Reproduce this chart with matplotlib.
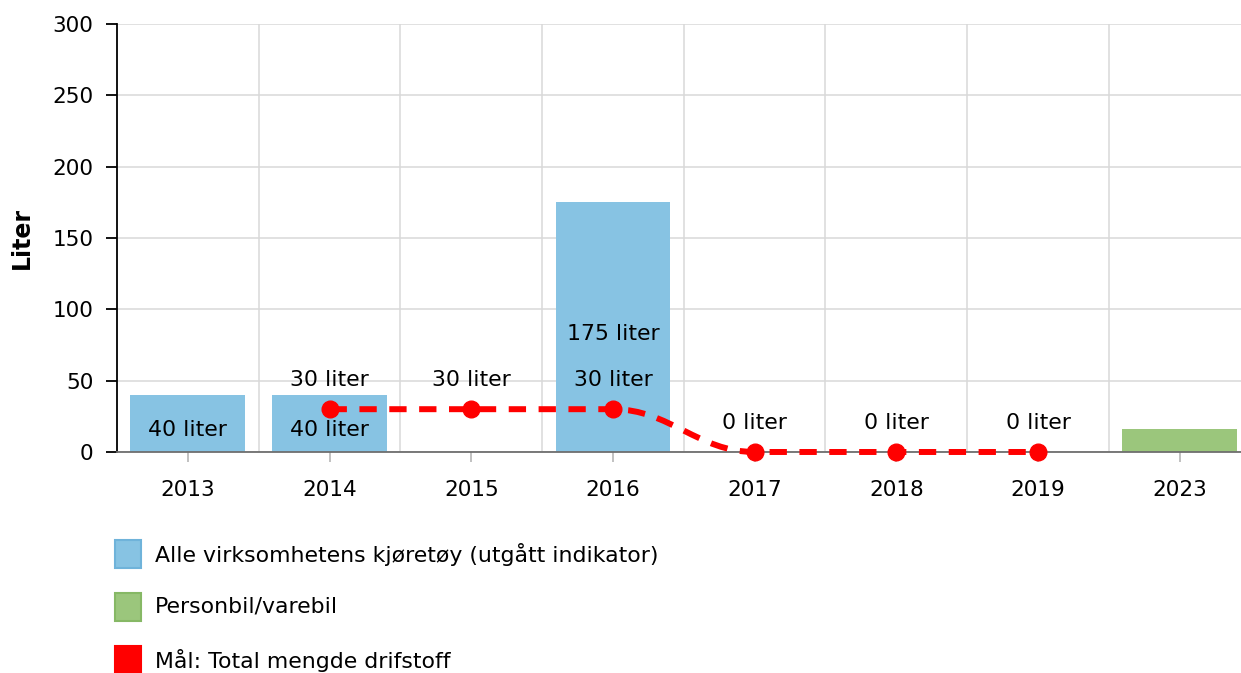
#!/usr/bin/env python3
"""Fuel use per year: bars per vehicle group plus the dashed target line.

Output: out.png
"""

import matplotlib.pyplot as plt
from matplotlib.patches import Rectangle, PathPatch
from matplotlib.path import Path

YEARS = ["2013", "2014", "2015", "2016", "2017", "2018", "2019", "2023"]

# Alle virksomhetens kjøretøy (utgått indikator)
ALL_VEHICLES = [40, 40, None, 175, None, None, None, None]
# Personbil/varebil
CAR_VAN = [None, None, None, None, None, None, None, 16]
# Mål: Total mengde drifstoff
TARGET = [None, 30, 30, 30, 0, 0, 0, None]

LEGEND_LABELS = [
    "Alle virksomhetens kjøretøy (utgått indikator)",
    "Personbil/varebil",
    "Mål: Total mengde drifstoff",
]

BLUE = "#87c3e3"
BLUE_EDGE = "#6fb3da"
GREEN = "#9bc67c"
GREEN_EDGE = "#86b865"
RED = "#ff0000"
GRID = "#d8d8d8"
BAR_WIDTH = 0.81
FS = 15.5
FS_TEXT = 15.8

plt.rcParams["font.family"] = ["DejaVu Sans"]

fig = plt.figure(figsize=(12.41, 6.73), dpi=100)
ax = fig.add_axes([0.0943, 0.3284, 0.9134, 0.6359])
ax.set_xlim(-0.5, len(YEARS) - 0.5)
ax.set_ylim(0, 300)

# grid: horizontal at value ticks, vertical at category boundaries
ax.set_yticks(range(0, 301, 50))
ax.set_xticks(range(len(YEARS)))
ax.set_xticklabels(YEARS)
ax.set_xticks([i + 0.5 for i in range(len(YEARS) - 1)], minor=True)
ax.grid(axis="y", which="major", color=GRID, linewidth=1.1)
ax.grid(axis="x", which="minor", color=GRID, linewidth=1.1)
ax.set_axisbelow(True)

for side in ("top", "right"):
    ax.spines[side].set_visible(False)
ax.spines["left"].set_color("black")
ax.spines["left"].set_linewidth(1.3)
ax.spines["bottom"].set_color("#6e6e6e")
ax.spines["bottom"].set_linewidth(1.3)

ax.tick_params(axis="y", length=8, width=1.3, color="black", pad=9, labelsize=FS)
ax.tick_params(axis="x", which="major", length=7, width=1.1, color="#b0b0b0",
               pad=13, labelsize=FS)
ax.tick_params(axis="x", which="minor", length=0)
ax.set_ylabel("Liter", fontsize=17, fontweight="bold", labelpad=13)

# === Bars ===
for series, face in ((ALL_VEHICLES, BLUE), (CAR_VAN, GREEN)):
    xs = [i for i, v in enumerate(series) if v is not None]
    vals = [v for v in series if v is not None]
    ax.bar(xs, vals, width=BAR_WIDTH, color=face, linewidth=0, zorder=2)

for i, v in enumerate(ALL_VEHICLES):
    if v is None:
        continue
    ax.annotate(f"{v} liter", xy=(i, v / 2), xytext=(0, -5),
                textcoords="offset points", ha="center", va="center",
                fontsize=FS_TEXT, zorder=5)

# === Target line (Highcharts-style spline through the points) ===
pts = [(i, v) for i, v in enumerate(TARGET) if v is not None]
SMOOTH = 1.5


def controls(k):
    x, y = pts[k]
    if k == 0 or k == len(pts) - 1:
        return (x, y), (x, y)
    lx, ly = pts[k - 1]
    nx, ny = pts[k + 1]
    d = SMOOTH + 1
    lcx, lcy = (SMOOTH * x + lx) / d, (SMOOTH * y + ly) / d
    rcx, rcy = (SMOOTH * x + nx) / d, (SMOOTH * y + ny) / d
    corr = ((rcy - lcy) * (rcx - x)) / (rcx - lcx) + y - rcy
    lcy += corr
    rcy += corr
    if lcy > ly and lcy > y:
        lcy = max(ly, y)
        rcy = 2 * y - lcy
    elif lcy < ly and lcy < y:
        lcy = min(ly, y)
        rcy = 2 * y - lcy
    if rcy > ny and rcy > y:
        rcy = max(ny, y)
        lcy = 2 * y - rcy
    elif rcy < ny and rcy < y:
        rcy = min(ny, y)
        lcy = 2 * y - rcy
    return (lcx, lcy), (rcx, rcy)


verts = [pts[0]]
codes = [Path.MOVETO]
for k in range(1, len(pts)):
    verts += [controls(k - 1)[1], controls(k)[0], pts[k]]
    codes += [Path.CURVE4] * 3
ax.add_patch(PathPatch(Path(verts, codes), facecolor="none", edgecolor=RED,
                       linewidth=4.3, linestyle=(0, (2.9, 2.1)),
                       capstyle="butt", zorder=3, clip_on=False))
ax.plot([p[0] for p in pts], [p[1] for p in pts], linestyle="none",
        marker="o", markersize=12, color=RED, zorder=4, clip_on=False)

for x, v in pts:
    ax.annotate(f"{v} liter", xy=(x, v), xytext=(0, 21),
                textcoords="offset points", ha="center", va="center",
                fontsize=FS_TEXT, zorder=5)

# === Legend ===
W, H = 1241, 673
legend_faces = [(BLUE, BLUE_EDGE), (GREEN, GREEN_EDGE), (RED, RED)]
for row, (label, (face, edge)) in enumerate(zip(LEGEND_LABELS, legend_faces)):
    yc = 554 + row * 53
    fig.patches.append(Rectangle((115 / W, 1 - (yc + 14) / H), 26 / W, 28 / H,
                                 transform=fig.transFigure, facecolor=face,
                                 edgecolor=edge, linewidth=1.5))
    fig.text(155 / W, 1 - yc / H, label, ha="left", va="center", fontsize=FS_TEXT)

fig.savefig("out.png", dpi=100)
